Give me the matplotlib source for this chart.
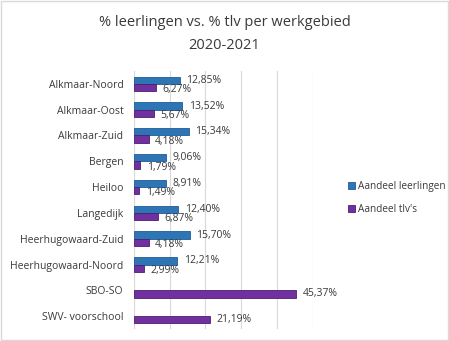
import numpy as np
import matplotlib.pyplot as plt
from matplotlib.patches import Rectangle

# data
gebieden = ["Alkmaar-Noord", "Alkmaar-Oost", "Alkmaar-Zuid", "Bergen", "Heiloo",
            "Langedijk", "Heerhugowaard-Zuid", "Heerhugowaard-Noord", "SBO-SO",
            "SWV- voorschool"]
leerlingen = [12.85, 13.52, 15.34, 9.06, 8.91, 12.40, 15.70, 12.21, np.nan, np.nan]
tlvs = [6.27, 5.67, 4.18, 1.79, 1.49, 6.87, 4.18, 2.99, 45.37, 21.19]

blauw = "#2E75B6"
paars = "#7030A0"
tekst = "#3A3A3A"

plt.rcParams['font.family'] = ['Open Sans', 'DejaVu Sans']

fig = plt.figure(figsize=(4.49, 3.41), dpi=100)
fig.patches.append(Rectangle((0.002, 0.003), 0.995, 0.993, transform=fig.transFigure,
                             fill=False, edgecolor="#D9D9D9", linewidth=1))
ax = fig.add_axes([0.298, 0.035, 0.398, 0.757])

y = np.arange(len(gebieden))
h = 0.28
ax.barh(y - h / 2, leerlingen, height=h, color=blauw, edgecolor="#1F5C99",
        linewidth=0.6, label="Aandeel leerlingen", zorder=3)
ax.barh(y + h / 2, tlvs, height=h, color=paars, edgecolor="#4B1F6E",
        linewidth=0.6, label="Aandeel tlv's", zorder=3)

def fmt(v):
    return ("%.2f%%" % v).replace(".", ",")

for i in range(len(gebieden)):
    if not np.isnan(leerlingen[i]):
        ax.text(leerlingen[i] + 1.8, y[i] - h / 2, fmt(leerlingen[i]), fontsize=7.5,
                va="center", ha="left", color=tekst, zorder=4)
        ty = y[i] + h * 0.8
    else:
        ty = y[i] + h / 2
    ax.text(tlvs[i] + 1.8, ty, fmt(tlvs[i]), fontsize=7.5, va="center", ha="left",
            color=tekst, zorder=4)

ax.set_xlim(0, 50)
ax.set_ylim(len(gebieden) - 0.5, -0.5)
ax.set_xticks([0, 10, 20, 30, 40, 50])
ax.set_xticklabels([])
ax.tick_params(axis="x", length=0)
ax.tick_params(axis="y", length=0, labelsize=7.5, labelcolor=tekst, pad=7.5)
ax.set_yticks(y)
ax.set_yticklabels(gebieden)
ax.grid(axis="x", color="#D9D9D9", linewidth=0.8, zorder=0)
for s in ax.spines.values():
    s.set_visible(False)
ax.axvline(0, color="#D9D9D9", linewidth=0.8, zorder=1)

fig.text(0.5, 0.935, "% leerlingen vs. % tlv per werkgebied", ha="center", va="center",
         fontsize=10.5, color=tekst)
fig.text(0.5, 0.868, "2020-2021", ha="center", va="center", fontsize=10.5, color=tekst)

fig.legend(loc="center left", bbox_to_anchor=(0.755, 0.42), frameon=False, fontsize=7.2,
           handlelength=0.7, handleheight=0.7, handletextpad=0.3, labelspacing=1.25,
           labelcolor=tekst)

fig.savefig("out.png", dpi=100)
